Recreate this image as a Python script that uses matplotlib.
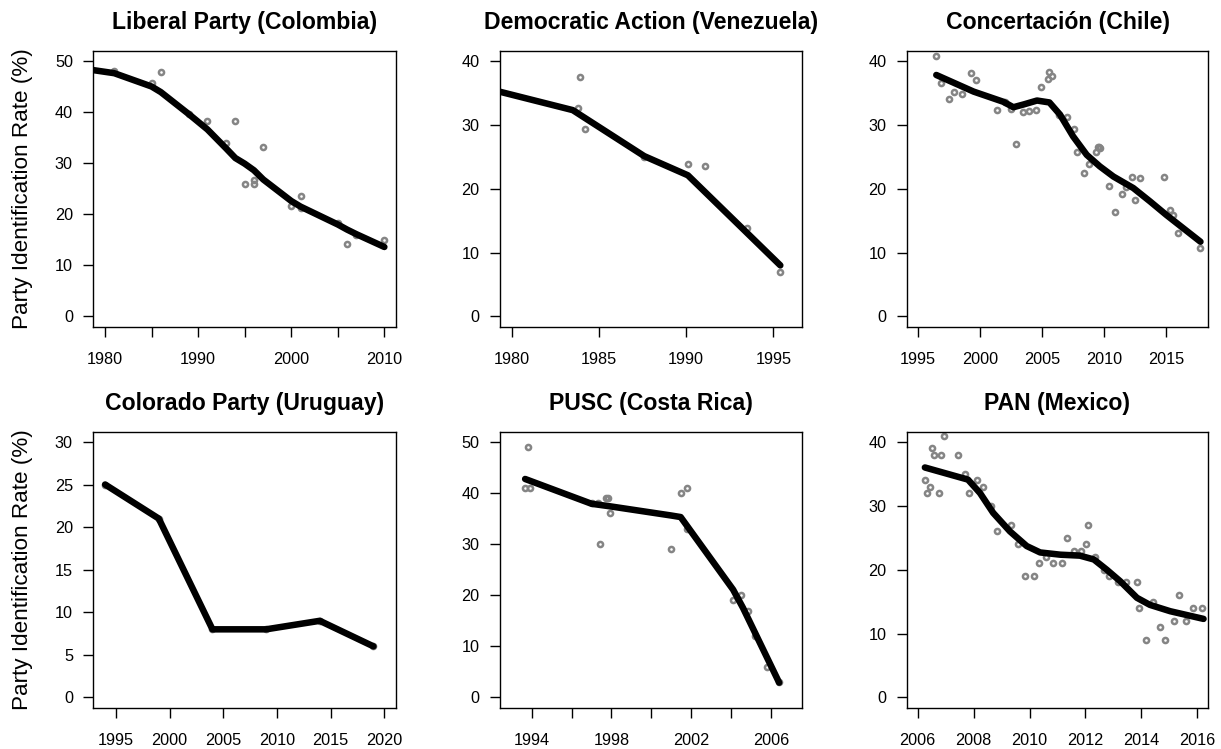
import matplotlib
matplotlib.use("Agg")
import matplotlib.pyplot as plt
from matplotlib.ticker import FixedLocator, FixedFormatter

plt.rcParams['font.family'] = ['Liberation Sans', 'DejaVu Sans']

# ---- Liberal Party (Colombia) ----
col_years = [1981, 1985, 1986, 1989, 1991, 1993, 1994, 1995, 1996, 1996, 1997,
             2000, 2001, 2001, 2005, 2006, 2007, 2010]
col_rates = [48.0, 45.7, 47.8, 39.7, 38.2, 33.9, 38.2, 25.9, 25.9, 26.7, 33.2,
             21.6, 23.5, 21.2, 18.2, 14.1, 16.0, 15.0]
col_fit_years = [1978, 1981, 1985, 1986, 1989, 1991, 1993, 1994, 1995, 1996, 1997,
                 2000, 2001, 2005, 2006, 2007, 2010]
col_fit_rates = [48.4, 47.6, 45.0, 43.9, 39.6, 36.6, 32.9, 31.0, 29.9, 28.6, 26.8,
                 22.6, 21.5, 18.0, 17.0, 16.1, 13.6]

# ---- Democratic Action (Venezuela) ----
ven_years = [1983.9, 1983.8, 1984.2, 1987.6, 1990.1, 1991.1, 1993.5, 1995.4]
ven_rates = [37.5, 32.6, 29.3, 25.0, 23.9, 23.5, 13.8, 6.9]
ven_fit_years = [1979.0, 1983.5, 1987.6, 1990.1, 1995.4]
ven_fit_rates = [35.4, 32.3, 25.1, 22.1, 8.0]

# ---- Concertación (Chile) ----
chi_years = [1996.5, 1996.85, 1997.5, 1997.9, 1998.6, 1999.3, 1999.7, 2001.4,
             2002.0, 2002.5, 2002.9, 2003.5, 2003.95, 2004.5, 2004.9, 2005.5,
             2005.6, 2005.8, 2006.4, 2007.0, 2007.55, 2007.8, 2008.4, 2008.8,
             2009.35, 2009.5, 2009.7, 2009.6, 2010.4, 2010.85, 2011.45, 2011.75,
             2012.25, 2012.5, 2012.85, 2014.8, 2015.3, 2015.55, 2015.95, 2017.7]
chi_rates = [40.8, 36.5, 34.1, 35.2, 34.9, 38.1, 37.0, 32.3,
             33.6, 32.5, 27.0, 32.0, 32.2, 32.3, 35.9, 37.2,
             38.2, 37.7, 31.6, 31.2, 29.4, 25.7, 22.5, 23.8,
             25.7, 26.6, 26.3, 26.5, 20.5, 16.3, 19.2, 20.3,
             21.9, 18.3, 21.6, 21.8, 16.7, 15.9, 13.1, 10.7]
chi_fit_years = [1996.5, 1999.5, 2001.9, 2002.7, 2003.55, 2004.6, 2005.6, 2006.45,
                 2007.5, 2008.6, 2009.65, 2010.75, 2012.35, 2013.7, 2015.0, 2017.75]
chi_fit_rates = [37.8, 35.2, 33.6, 32.75, 33.2, 33.8, 33.5, 31.6,
                 28.2, 25.3, 23.5, 21.9, 20.1, 18.0, 15.9, 11.7]

# ---- Colorado Party (Uruguay) ----
uru_years = [1994, 1999, 2004, 2009, 2014, 2019]
uru_rates = [25, 21, 8, 8, 9, 6]
uru_fit_years = uru_years
uru_fit_rates = uru_rates

# ---- PUSC (Costa Rica) ----
cr_years = [1993.67, 1993.92, 1993.83, 1997.0, 1997.34, 1997.43, 1997.73, 1997.84,
            1997.91, 2000.98, 2001.47, 2001.77, 2001.8, 2004.08, 2004.49, 2004.86,
            2005.2, 2005.81, 2006.41]
cr_rates = [41, 41, 49, 38, 38, 30, 39, 39,
            36, 29, 40, 41, 33, 19, 20, 17,
            12, 6, 3]
cr_fit_years = [1993.67, 1997.0, 1997.93, 2001.0, 2001.47, 2004.1, 2004.6, 2006.41]
cr_fit_rates = [42.75, 37.9, 37.4, 35.6, 35.3, 21.1, 17.5, 2.9]

# ---- PAN (Mexico) ----
mex_years = [2006.26, 2006.35, 2006.43, 2006.5, 2006.58, 2006.76, 2006.85, 2006.94,
             2007.43, 2007.69, 2007.85, 2008.11, 2008.35, 2008.62, 2008.85, 2009.34,
             2009.58, 2009.84, 2010.16, 2010.34, 2010.58, 2010.83, 2011.16, 2011.34,
             2011.58, 2011.83, 2012.01, 2012.09, 2012.34, 2012.67, 2012.83, 2013.16,
             2013.44, 2013.84, 2013.93, 2014.17, 2014.43, 2014.68, 2014.85, 2015.17,
             2015.34, 2015.59, 2015.84, 2016.17]
mex_rates = [34, 32, 33, 39, 38, 32, 38, 41,
             38, 35, 32, 34, 33, 30, 26, 27,
             24, 19, 19, 21, 22, 21, 21, 25,
             23, 23, 24, 27, 22, 20, 19, 18,
             18, 18, 14, 9, 15, 11, 9, 12,
             16, 12, 14, 14]
mex_fit_years = [2006.26, 2007.8, 2008.23, 2008.7, 2009.3, 2009.9, 2010.38, 2011.1,
                 2011.8, 2012.3, 2012.76, 2013.24, 2013.84, 2014.3, 2015.03, 2016.22]
mex_fit_rates = [36.0, 34.1, 32.0, 28.9, 26.0, 23.7, 22.7, 22.35,
                 22.2, 21.6, 20.0, 18.2, 15.6, 14.5, 13.5, 12.3]

titles = ["Liberal Party (Colombia)", "Democratic Action (Venezuela)",
          "Concertación (Chile)", "Colorado Party (Uruguay)",
          "PUSC (Costa Rica)", "PAN (Mexico)"]

panels = [
    (col_years, col_rates, col_fit_years, col_fit_rates),
    (ven_years, ven_rates, ven_fit_years, ven_fit_rates),
    (chi_years, chi_rates, chi_fit_years, chi_fit_rates),
    (uru_years, uru_rates, uru_fit_years, uru_fit_rates),
    (cr_years, cr_rates, cr_fit_years, cr_fit_rates),
    (mex_years, mex_rates, mex_fit_years, mex_fit_rates),
]

# axis ranges, ticks and the subset of tick labels that are printed
xlims = [(1978.75, 2011.25), (1979.33, 1996.66), (1994.12, 2018.38),
         (1992.9, 2021.1), (1992.41, 2007.57), (2005.61, 2016.39)]
xticks = [list(range(1980, 2011, 5)), list(range(1980, 1996, 5)),
          list(range(1995, 2016, 5)), list(range(1995, 2021, 5)),
          list(range(1994, 2007, 2)), list(range(2006, 2017, 2))]
xlabeled = [[1980, 1990, 2000, 2010], [1980, 1985, 1990, 1995],
            [1995, 2000, 2005, 2010, 2015], [1995, 2000, 2005, 2010, 2015, 2020],
            [1994, 1998, 2002, 2006], [2006, 2008, 2010, 2012, 2014, 2016]]
ymaxes = [50, 40, 40, 30, 50, 40]
ysteps = [10, 10, 10, 5, 10, 10]

W, H = 1221, 749
fig = plt.figure(figsize=(W / 100, H / 100), dpi=100)

col_left = [93.3, 500.0, 906.7]
col_right = [396.0, 802.3, 1208.3]
row_top = [50.7, 431.7]
row_bottom = [326.7, 707.7]

point_color = "#858585"

for i, (px, py, fx, fy) in enumerate(panels):
    r, c = divmod(i, 3)
    ax = fig.add_axes([col_left[c] / W, 1 - row_bottom[r] / H,
                       (col_right[c] - col_left[c]) / W,
                       (row_bottom[r] - row_top[r]) / H])
    ax.plot(px, py, linestyle="none", marker="o", markersize=3.7,
            markerfacecolor="none", markeredgecolor=point_color,
            markeredgewidth=1.8, zorder=2)
    ax.plot(fx, fy, color="black", linewidth=4.7, solid_capstyle="round",
            solid_joinstyle="round", zorder=3)
    ax.set_xlim(*xlims[i])
    ym = ymaxes[i]
    ax.set_ylim(-0.04 * ym, 1.04 * ym)
    ax.xaxis.set_major_locator(FixedLocator(xticks[i]))
    ax.xaxis.set_major_formatter(FixedFormatter(
        [str(t) if t in xlabeled[i] else "" for t in xticks[i]]))
    ax.set_yticks(list(range(0, ym + 1, ysteps[i])))
    ax.tick_params(direction="out", length=7.2, width=1.0, labelsize=11.7,
                   color="black")
    ax.tick_params(axis="x", pad=11)
    ax.tick_params(axis="y", pad=7.5)
    for s in ax.spines.values():
        s.set_linewidth(1.0)
    ax.set_title(titles[i], fontsize=16.6, fontweight="bold", pad=15.6)
    if c == 0:
        ax.set_ylabel("Party Identification Rate (%)", fontsize=16.2)
        ax.yaxis.set_label_coords((33.5 - col_left[0]) / (col_right[0] - col_left[0]), 0.5)

fig.savefig("out.png", dpi=100)
